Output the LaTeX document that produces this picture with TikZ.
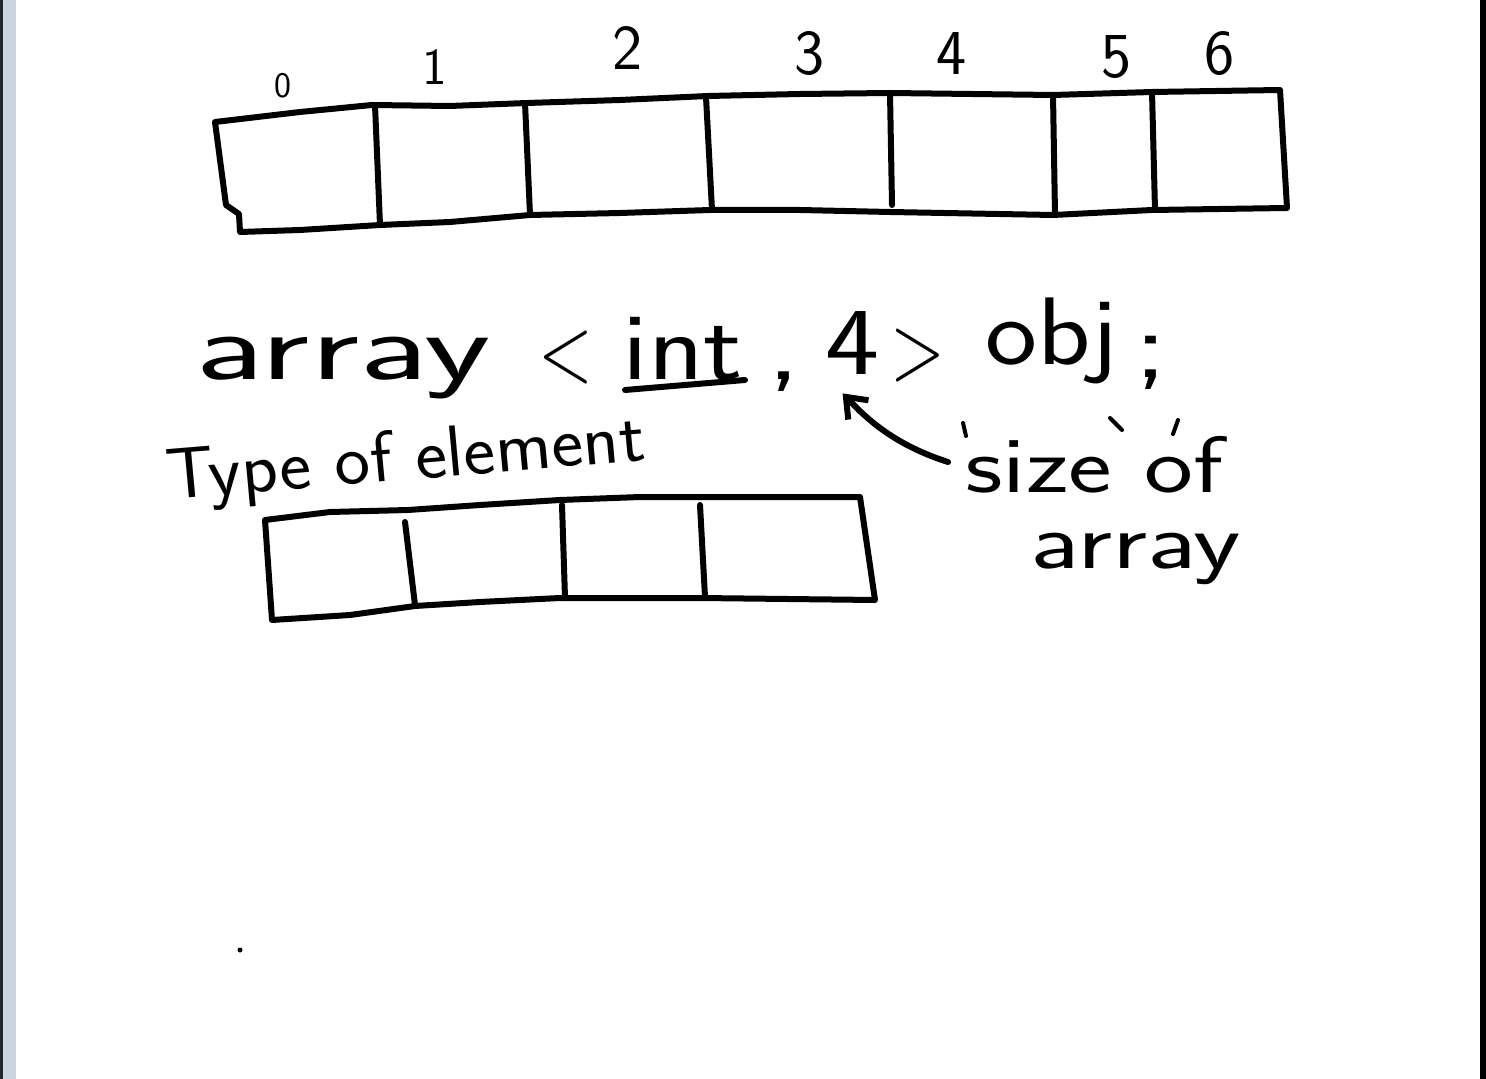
\documentclass[tikz,border=0pt]{standalone}
\usetikzlibrary{arrows.meta}
\definecolor{edgeblue}{HTML}{C9D5E1}
\definecolor{edgedark}{HTML}{1E252C}
\tikzset{
  box/.style={line width=3pt, line join=round, line cap=round},
  hand/.style={font=\sffamily\fontsize{48}{56}\selectfont, inner sep=0pt, anchor=base west, xscale=1.4},
  idx/.style={font=\sffamily\fontsize{32}{38}\selectfont, inner sep=0pt, anchor=base},
  tick/.style={line width=2pt, line cap=round}
}
\begin{document}
\begin{tikzpicture}[x=0.5pt, y=-0.5pt]
  \useasboundingbox (0,0) rectangle (1486,1079);
  \fill[white] (0,0) rectangle (1486,1079);
  \fill[edgeblue] (0,0) rectangle (16,1079);
  \fill[edgedark] (0,0) rectangle (3,1079);
  \fill[black] (1480,0) rectangle (1486,1079);

  \node[idx, font=\sffamily\fontsize{18}{22}\selectfont] (i0) at (283,98) {0};
  \node[idx, font=\sffamily\fontsize{26}{30}\selectfont] (i1) at (435,85) {1};
  \node[idx] (i2) at (628,70) {2};
  \node[idx] (i3) at (810,75) {3};
  \node[idx] (i4) at (952,75) {4};
  \node[idx] (i5) at (1117,78) {5};
  \node[idx] (i6) at (1220,75) {6};

  \draw[box] (215,122) -- (300,112) -- (372,105) -- (450,106) -- (527,103) -- (620,100)
    -- (708,96) -- (800,94) -- (890,93) -- (1053,95) -- (1152,92) -- (1280,90)
    -- (1287,208) -- (1152,210) -- (1053,215) -- (890,212) -- (800,210) -- (710,210)
    -- (620,213) -- (530,215) -- (450,222) -- (380,225) -- (300,230) -- (240,232)
    -- (239,214) -- (226,205) -- cycle;
  \draw[box] (375,105) -- (380,225);
  \draw[box] (525,103) -- (530,215);
  \draw[box] (706,97) -- (712,210);
  \draw[box] (890,93) -- (892,205);
  \draw[box] (1053,95) -- (1055,215);
  \draw[box] (1152,92) -- (1155,210);

  \node[hand, xscale=1.6/1.4] (arr) at (195,380) {array};
  \node[hand, xscale=0.75/1.4] (lt) at (538,382) {\textless};
  \node[hand, xscale=1.2/1.4] (int) at (622,380) {int};
  \node[hand] (comma) at (766,380) {,};
  \node[hand, xscale=1.2/1.4] (four) at (825,375) {4};
  \node[hand, xscale=0.75/1.4] (gt) at (890,380) {\textgreater};
  \node[hand, xscale=1.15/1.4] (obj) at (985,365) {obj};
  \node[hand] (semi) at (1133,378) {;};
  \draw[box] (625,390) -- (745,380);

  \node[hand, font=\sffamily\fontsize{36}{42}\selectfont, xscale=1.05/1.4, rotate=5] (type) at (168,500) {Type of element};

  \node[hand, font=\sffamily\fontsize{40}{48}\selectfont, xscale=1.3/1.4] (size) at (965,492) {size of};
  \node[hand, font=\sffamily\fontsize{40}{48}\selectfont, xscale=1.37/1.4] (sizearr) at (1030,568) {array};
  \draw[tick] (963,423) -- (966,436);
  \draw[tick] (1110,418) -- (1122,430);
  \draw[tick] (1178,420) -- (1173,434);

  \coordinate (tail) at (948,462);
  \draw[box, -{Straight Barb[length=9pt, width=14pt, line width=3pt]}] (tail)
    .. controls (895,445) and (868,420) .. ([shift={(-10,18)}]four.south);

  \draw[box] (265,520) -- (330,512) -- (408,510) -- (480,505) -- (560,500) -- (640,497)
    -- (700,497) -- (860,497) -- (875,600) -- (700,598) -- (560,598) -- (480,602)
    -- (415,606) -- (350,615) -- (272,620) -- cycle;
  \draw[box] (405,522) -- (415,605);
  \draw[box] (562,505) -- (565,598);
  \draw[box] (700,505) -- (705,597);

  \fill (240,950) circle (2.5);
\end{tikzpicture}
\end{document}
